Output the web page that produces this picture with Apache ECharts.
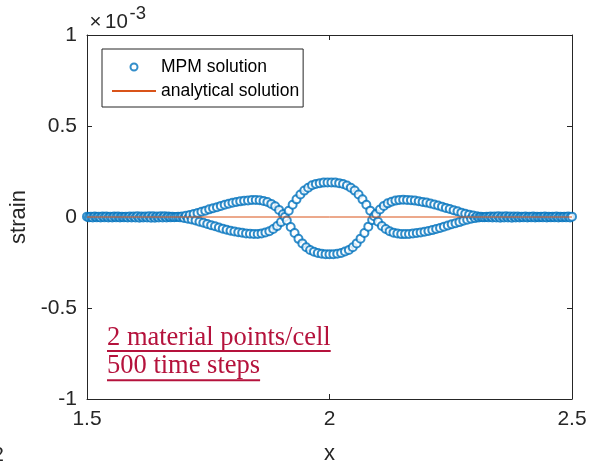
<!DOCTYPE html>
<html>
<head>
<meta charset="utf-8">
<script src="https://cdn.jsdelivr.net/npm/echarts@6/dist/echarts.min.js"></script>
<style>
  html, body { margin: 0; padding: 0; background: #ffffff; }
  #chart { width: 596px; height: 468px; }
</style>
</head>
<body>
<div id="chart"></div>
<script>
// Material point grid: 2 points per cell, spacing 0.004 over [1.5, 2.5]
const xStart = 1.5;
const pointSpacing = 0.004;

// Strain (x 1e-3) at the even-numbered material points x = 1.500, 1.508, ..., 2.500
const strainP = [
  0.002, 0.002, 0.003, 0.002, 0.003, 0.003, 0.002, 0.003, 0.003, 0.002,
  0.002, 0.003, 0.003, 0.004, 0.003, 0.003, 0.004, 0.004, 0.003, 0.004,
  0.004, 0.003, 0.002, 0.000, -0.002, -0.005, -0.009, -0.014, -0.019, -0.026,
  -0.032, -0.038, -0.045, -0.051, -0.058, -0.064, -0.070, -0.076, -0.080, -0.084,
  -0.087, -0.090, -0.092, -0.093, -0.093, -0.090, -0.085, -0.078, -0.066, -0.050,
  -0.028, 0.000, 0.034, 0.067, 0.097, 0.124, 0.145, 0.161, 0.174, 0.182,
  0.186, 0.189, 0.190,
  0.190, 0.189, 0.186, 0.181, 0.173, 0.161, 0.145, 0.124, 0.097, 0.067,
  0.035, 0.004, -0.026, -0.049, -0.066, -0.078, -0.086, -0.091, -0.094, -0.094,
  -0.093, -0.091, -0.088, -0.085, -0.081, -0.077, -0.072, -0.066, -0.060, -0.053,
  -0.047, -0.040, -0.034, -0.028, -0.021, -0.015, -0.010, -0.006, -0.003, -0.001,
  0.001, 0.003, 0.003, 0.004, 0.003, 0.004, 0.003, 0.003, 0.003, 0.002,
  0.003, 0.002, 0.003, 0.002, 0.002, 0.003, 0.002, 0.002, 0.003, 0.002,
  0.002, 0.003, 0.002
];

// Strain (x 1e-3) at the odd-numbered material points x = 1.504, 1.512, ..., 2.496
const strainQ = [
  -0.002, -0.003, -0.002, -0.003, -0.002, -0.003, -0.003, -0.002, -0.003, -0.002,
  -0.003, -0.003, -0.003, -0.004, -0.003, -0.003, -0.004, -0.004, -0.003, -0.003,
  -0.003, -0.002, -0.001, 0.001, 0.003, 0.007, 0.011, 0.016, 0.022, 0.029,
  0.035, 0.042, 0.048, 0.054, 0.061, 0.067, 0.073, 0.078, 0.082, 0.086,
  0.089, 0.091, 0.093, 0.093, 0.092, 0.088, 0.082, 0.072, 0.059, 0.039,
  0.015, -0.019, -0.055, -0.088, -0.120, -0.145, -0.166, -0.181, -0.191, -0.198,
  -0.202, -0.204,
  -0.205,
  -0.204, -0.202, -0.198, -0.190, -0.181, -0.166, -0.145, -0.119, -0.088, -0.053,
  -0.017, 0.017, 0.041, 0.061, 0.075, 0.084, 0.090, 0.094, 0.095, 0.094,
  0.092, 0.090, 0.087, 0.083, 0.079, 0.074, 0.069, 0.063, 0.057, 0.050,
  0.044, 0.037, 0.031, 0.024, 0.018, 0.013, 0.008, 0.004, 0.002, -0.001,
  -0.002, -0.003, -0.003, -0.004, -0.003, -0.003, -0.004, -0.003, -0.003, -0.002,
  -0.003, -0.002, -0.003, -0.002, -0.002, -0.003, -0.002, -0.002, -0.003, -0.002,
  -0.002, -0.003
];

// Analytical strain stays at zero
const analyticalX = [1.5, 2.0, 2.5];
const analyticalStrain = [0, 0, 0];

const xTicks = [1.5, 2, 2.5];
const yTicks = [-1, -0.5, 0, 0.5, 1];
const seriesNames = ['MPM solution', 'analytical solution'];
const noteLines = ['2 material points/cell', '500 time steps'];

// Interleave the two point families back into grid order
const mpmData = [];
for (let i = 0; i < strainP.length + strainQ.length; i++) {
  const x = +(xStart + i * pointSpacing).toFixed(3);
  const v = i % 2 === 0 ? strainP[i / 2] : strainQ[(i - 1) / 2];
  mpmData.push([x, v]);
}
const analyticalData = analyticalX.map((x, k) => [x, analyticalStrain[k]]);

const AXIS = '#262626';
const ORANGE = '#D95319';
const BLUE = '#0072BD';
const SANS = '"Liberation Sans", Arial, Helvetica, sans-serif';
const SERIF = '"Liberation Serif", "Times New Roman", serif';
const NOTE = '#B5123C';

const chart = echarts.init(document.getElementById('chart'), null, { renderer: 'canvas' });

function measure(text, font) {
  const ctx = document.createElement('canvas').getContext('2d');
  ctx.font = font;
  return ctx.measureText(text).width;
}

// Fixed plot box; labels are positioned around it, not used to shrink it
const gridBox = { left: 87, right: 24, top: 35, bottom: 69, containLabel: false, outerBoundsMode: 'none' };

function axisCommon(extra) {
  return Object.assign({
    type: 'value',
    axisLine: { show: true, onZero: false, lineStyle: { color: AXIS, width: 1 } },
    axisTick: { show: true, inside: true, length: 5, lineStyle: { color: AXIS, width: 1 } },
    splitLine: { show: false },
    axisLabel: { show: false }
  }, extra);
}

const noteFont = '26.5px ' + SERIF;
const noteY = [338, 366.5];
const underlineY = [350, 379.3];
const noteGraphics = [];
noteLines.forEach((t, k) => {
  noteGraphics.push({
    type: 'text', silent: true,
    style: { x: 107, y: noteY[k], text: t, font: noteFont, fill: NOTE, verticalAlign: 'middle', align: 'left' }
  });
  noteGraphics.push({
    type: 'rect', silent: true,
    shape: { x: 107, y: underlineY[k], width: measure(t, noteFont), height: 2 },
    style: { fill: NOTE }
  });
});

const option = {
  animation: false,
  backgroundColor: '#ffffff',
  color: [BLUE, ORANGE],
  textStyle: { fontFamily: SANS },
  grid: gridBox,
  legend: {
    orient: 'vertical',
    left: 102,
    top: 49,
    padding: [9, 4, 7, 9],
    itemGap: 6,
    itemWidth: 44,
    itemHeight: 7,
    backgroundColor: '#ffffff',
    borderColor: AXIS,
    borderWidth: 1,
    borderRadius: 0,
    data: [
      { name: seriesNames[0] },
      { name: seriesNames[1], itemStyle: { opacity: 0 } }
    ],
    textStyle: { fontFamily: SANS, fontSize: 17.5, lineHeight: 14, color: '#000000' }
  },
  xAxis: [
    axisCommon({
      min: 1.5, max: 2.5, interval: 0.5, position: 'bottom',
      axisLabel: {
        show: true, color: AXIS, fontSize: 21, fontFamily: SANS, margin: 10,
        formatter: v => (xTicks.includes(v) ? String(v) : '')
      },
      name: 'x', nameLocation: 'middle', nameGap: 44,
      nameTextStyle: { color: AXIS, fontSize: 22, fontFamily: SANS }
    }),
    axisCommon({ min: 1.5, max: 2.5, interval: 0.5, position: 'top' })
  ],
  yAxis: [
    axisCommon({
      min: -1, max: 1, interval: 0.5, position: 'left',
      axisLabel: {
        show: true, color: AXIS, fontSize: 21, fontFamily: SANS, margin: 10,
        formatter: v => (yTicks.includes(v) ? String(v) : '')
      },
      name: 'strain', nameLocation: 'middle', nameGap: 50, nameRotate: 90,
      nameTextStyle: { color: AXIS, fontSize: 22, fontFamily: SANS }
    }),
    axisCommon({ min: -1, max: 1, interval: 0.5, position: 'right' })
  ],
  series: [
    {
      name: seriesNames[0],
      type: 'scatter',
      data: mpmData,
      symbol: 'emptyCircle',
      symbolSize: 8,
      clip: false,
      itemStyle: { color: BLUE, borderColor: BLUE, borderWidth: 1.2 },
      emphasis: { disabled: true },
      z: 2
    },
    {
      name: seriesNames[1],
      type: 'line',
      data: analyticalData,
      symbol: 'none',
      showSymbol: false,
      color: ORANGE,
      lineStyle: { color: ORANGE, width: 1, opacity: 1 },
      itemStyle: { color: ORANGE },
      emphasis: { disabled: true },
      z: 5
    }
  ],
  graphic: [
    {
      type: 'text', silent: true,
      style: { x: 89.5, y: 22, text: '×', font: '20.5px ' + SANS, fill: AXIS, verticalAlign: 'middle', align: 'left' }
    },
    {
      type: 'text', silent: true,
      style: { x: 105, y: 22, text: '10', font: '20.5px ' + SANS, fill: AXIS, verticalAlign: 'middle', align: 'left' }
    },
    {
      type: 'text', silent: true,
      style: { x: 129.5, y: 14, text: '-3', font: '18.5px ' + SANS, fill: AXIS, verticalAlign: 'middle', align: 'left' }
    },
    {
      type: 'text', silent: true,
      style: { x: 4, y: 455, text: '2', font: '21px ' + SANS, fill: AXIS, verticalAlign: 'middle', align: 'right' }
    }
  ].concat(noteGraphics)
};

chart.setOption(option);
</script>
</body>
</html>
